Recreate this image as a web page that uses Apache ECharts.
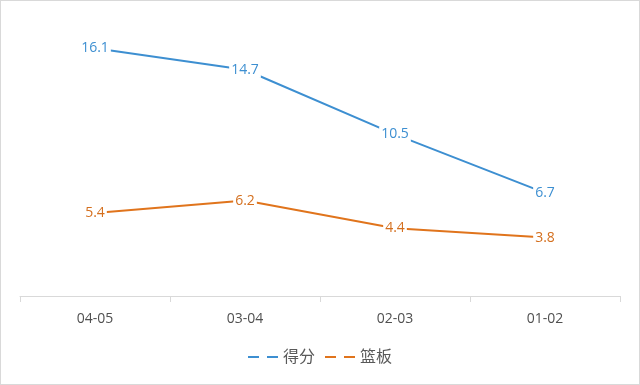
<!DOCTYPE html>
<html><head><meta charset="utf-8">
<script src="https://cdn.jsdelivr.net/npm/echarts@6/dist/echarts.min.js"></script>
<style>html,body{margin:0;padding:0;background:#fff}#c{width:640px;height:385px;box-sizing:border-box;border:1px solid #d9d9d9}</style>
</head><body><div id="c"></div>
<script>
const categories = ['04-05', '03-04', '02-03', '01-02'];
const scoreValues = [16.1, 14.7, 10.5, 6.7];
const reboundValues = [5.4, 6.2, 4.4, 3.8];
const seriesNames = ['得分', '篮板'];

const chart = echarts.init(document.getElementById('c'));
const dashIcon = 'path://M0,0h11v2h-11z M19,0h11v2h-11z';
const font = '"Open Sans","Noto Sans CJK SC",sans-serif';
function lbl(color) {
  return {show: true, position: 'inside', color: color, fontSize: 14, fontFamily: font,
    backgroundColor: '#fff', padding: [1, 2]};
}
chart.setOption({
  backgroundColor: '#fff',
  animation: false,
  grid: {left: 19, right: 19, top: 18, bottom: 88},
  legend: {
    bottom: 14, itemWidth: 30, itemHeight: 2.5, itemGap: 10,
    textStyle: {color: '#595959', fontSize: 16, fontFamily: font},
    data: [{name: seriesNames[0], icon: dashIcon}, {name: seriesNames[1], icon: dashIcon}]
  },
  xAxis: {
    type: 'category', data: categories, boundaryGap: true,
    axisLine: {lineStyle: {color: '#d9d9d9'}},
    axisTick: {show: true, length: 6, lineStyle: {color: '#d9d9d9'}},
    axisLabel: {color: '#505050', fontSize: 14, fontFamily: font, margin: 16}
  },
  yAxis: {type: 'value', min: 0, max: 18, show: false, splitLine: {show: false}},
  series: [
    {name: seriesNames[0], type: 'line', data: scoreValues, symbol: 'circle', symbolSize: 0, showSymbol: true,
      color: '#3d8fd1', lineStyle: {width: 2, color: '#3d8fd1'}, label: lbl('#3d8fd1')},
    {name: seriesNames[1], type: 'line', data: reboundValues, symbol: 'circle', symbolSize: 0, showSymbol: true,
      color: '#e0741c', lineStyle: {width: 2, color: '#e0741c'}, label: lbl('#d46f1e')}
  ]
});
</script></body></html>
